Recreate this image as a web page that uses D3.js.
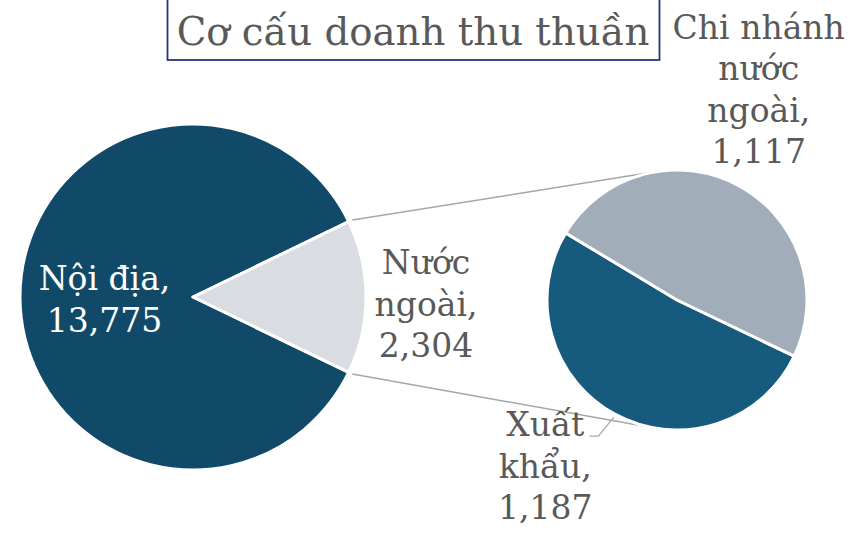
<!DOCTYPE html>
<html>
<head>
<meta charset="utf-8">
<script src="https://cdn.jsdelivr.net/npm/d3@7"></script>
<style>
  html, body { margin: 0; padding: 0; background: #fff; }
  svg text { font-family: 'DejaVu Serif', serif; fill: #595959; }
</style>
</head>
<body>
<svg id="chart" width="858" height="541"></svg>
<script>
const title = 'Cơ cấu doanh thu thuần';

// first pie: domestic vs. foreign revenue
const mainCategories = ['Nội địa', 'Nước ngoài'];
const mainValues = [13775, 2304];
const mainColors = ['#114a69', '#d9dde2'];

// second pie: breakdown of the foreign slice
const subCategories = ['Xuất khẩu', 'Chi nhánh nước ngoài'];
const subValues = [1187, 1117];
const subColors = ['#165b7e', '#a1adb9'];

// how each category name wraps inside its label
const labelLines = {
  'Nội địa': ['Nội địa'],
  'Nước ngoài': ['Nước', 'ngoài'],
  'Xuất khẩu': ['Xuất', 'khẩu'],
  'Chi nhánh nước ngoài': ['Chi nhánh', 'nước', 'ngoài'],
};

const W = 858, H = 541;
const FONT = 33, LINE = 41.5;
const fmt = d3.format(',');

const svg = d3.select('#chart');

const main = { cx: 193, cy: 297, r: 173 };
const sub = { cx: 677, cy: 300, r: 130 };

function polar(c, angle, radius) {
  // d3 angles: 0 at 12 o'clock, clockwise
  return [c.cx + radius * Math.sin(angle), c.cy - radius * Math.cos(angle)];
}

/*
 * TITLE
 */
svg.append('rect')
  .attr('x', 167.5).attr('y', -2)
  .attr('width', 492).attr('height', 62)
  .attr('fill', 'none')
  .attr('stroke', '#2b3180')
  .attr('stroke-width', 1.8);

svg.append('text')
  .attr('x', 413).attr('y', 45)
  .attr('text-anchor', 'middle')
  .style('font-size', '38.7px')
  .text(title);

/*
 * PIES
 */
const total = d3.sum(mainValues);
const splitAngle = 2 * Math.PI * mainValues[1] / total;

// the split slice is centred on 3 o'clock, facing the second pie
const mainArcs = d3.pie().sort(null)
  .startAngle(Math.PI / 2 + splitAngle / 2)
  .endAngle(Math.PI / 2 + splitAngle / 2 + 2 * Math.PI)(mainValues);

const subStart = 115.6 * Math.PI / 180;
const subArcs = d3.pie().sort(null)
  .startAngle(subStart)
  .endAngle(subStart + 2 * Math.PI)(subValues);

const mainArc = d3.arc().innerRadius(0).outerRadius(main.r);
const subArc = d3.arc().innerRadius(0).outerRadius(sub.r);

// connector lines: from the split slice corners, tangent to the second pie
function tangentPoint(p, c, upper) {
  const dx = c.cx - p[0], dy = c.cy - p[1];
  const d = Math.hypot(dx, dy);
  const theta = Math.atan2(dy, dx);
  const alpha = Math.asin(c.r / d);
  const len = Math.sqrt(d * d - c.r * c.r);
  const a = upper ? theta - alpha : theta + alpha;
  return [p[0] + len * Math.cos(a), p[1] + len * Math.sin(a)];
}

const split = mainArcs[1];
const cornerTop = polar(main, split.startAngle, main.r + 4);
const cornerBottom = polar(main, split.endAngle, main.r + 4);

svg.append('g').attr('class', 'connectors')
  .selectAll('line')
  .data([[cornerTop, tangentPoint(cornerTop, sub, true)],
         [cornerBottom, tangentPoint(cornerBottom, sub, false)]])
  .join('line')
  .attr('x1', d => d[0][0]).attr('y1', d => d[0][1])
  .attr('x2', d => d[1][0]).attr('y2', d => d[1][1])
  .attr('stroke', '#a6a6a6')
  .attr('stroke-width', 1.5);

svg.append('g')
  .attr('transform', `translate(${main.cx},${main.cy})`)
  .selectAll('path')
  .data(mainArcs)
  .join('path')
  .attr('d', mainArc)
  .attr('fill', (d, i) => mainColors[i])
  .attr('stroke', '#fff')
  .attr('stroke-width', 3)
  .attr('stroke-linejoin', 'round');

svg.append('g')
  .attr('transform', `translate(${sub.cx},${sub.cy})`)
  .selectAll('path')
  .data(subArcs)
  .join('path')
  .attr('d', subArc)
  .attr('fill', (d, i) => subColors[i])
  .attr('stroke', '#fff')
  .attr('stroke-width', 3)
  .attr('stroke-linejoin', 'round');

/*
 * LABELS
 */
function drawLabel(name, value, pos, color) {
  const lines = labelLines[name].slice();
  lines[lines.length - 1] += ',';
  lines.push(fmt(value));
  const y0 = pos[1] - (lines.length - 1) * LINE / 2 + FONT * 0.36;
  const t = svg.append('text')
    .attr('text-anchor', 'middle')
    .style('font-size', FONT + 'px')
    .style('fill', color || null);
  t.selectAll('tspan')
    .data(lines)
    .join('tspan')
    .attr('x', pos[0])
    .attr('y', (d, i) => y0 + i * LINE)
    .text(d => d);
  return t;
}

// inside label for the big slice
const domestic = mainArcs[0];
const dc = mainArc.centroid(domestic);
drawLabel(mainCategories[0], mainValues[0], [main.cx + dc[0] - 2, main.cy + dc[1] + 2], '#fff');

// outside labels: [radius beyond the edge, nudge]
const outside = {
  'Nước ngoài': { gap: 60, nudge: [0, 7] },
  'Chi nhánh nước ngoài': { gap: 97, nudge: [-26, -11] },
  'Xuất khẩu': { gap: 97, nudge: [-24, -34] },
};

function midAngle(d) { return (d.startAngle + d.endAngle) / 2; }

function outsidePos(c, d, name) {
  const o = outside[name];
  const p = polar(c, midAngle(d), c.r + o.gap);
  return [p[0] + o.nudge[0], p[1] + o.nudge[1]];
}

drawLabel(mainCategories[1], mainValues[1], outsidePos(main, split, mainCategories[1]));
drawLabel(subCategories[1], subValues[1], outsidePos(sub, subArcs[1], subCategories[1]));
const exportLabel = drawLabel(subCategories[0], subValues[0], outsidePos(sub, subArcs[0], subCategories[0]));

// leader line from the export label to its slice
const firstLine = exportLabel.select('tspan').node().getBBox();
const lineY = +exportLabel.select('tspan').attr('y');
const tip = polar(sub, midAngle(subArcs[0]), sub.r + 3);
const start = [firstLine.x + firstLine.width + 5, lineY];
svg.append('path')
  .attr('d', d3.line()([start, [start[0] + 9, lineY], tip]))
  .attr('fill', 'none')
  .attr('stroke', '#a6a6a6')
  .attr('stroke-width', 1.2);
</script>
</body>
</html>
